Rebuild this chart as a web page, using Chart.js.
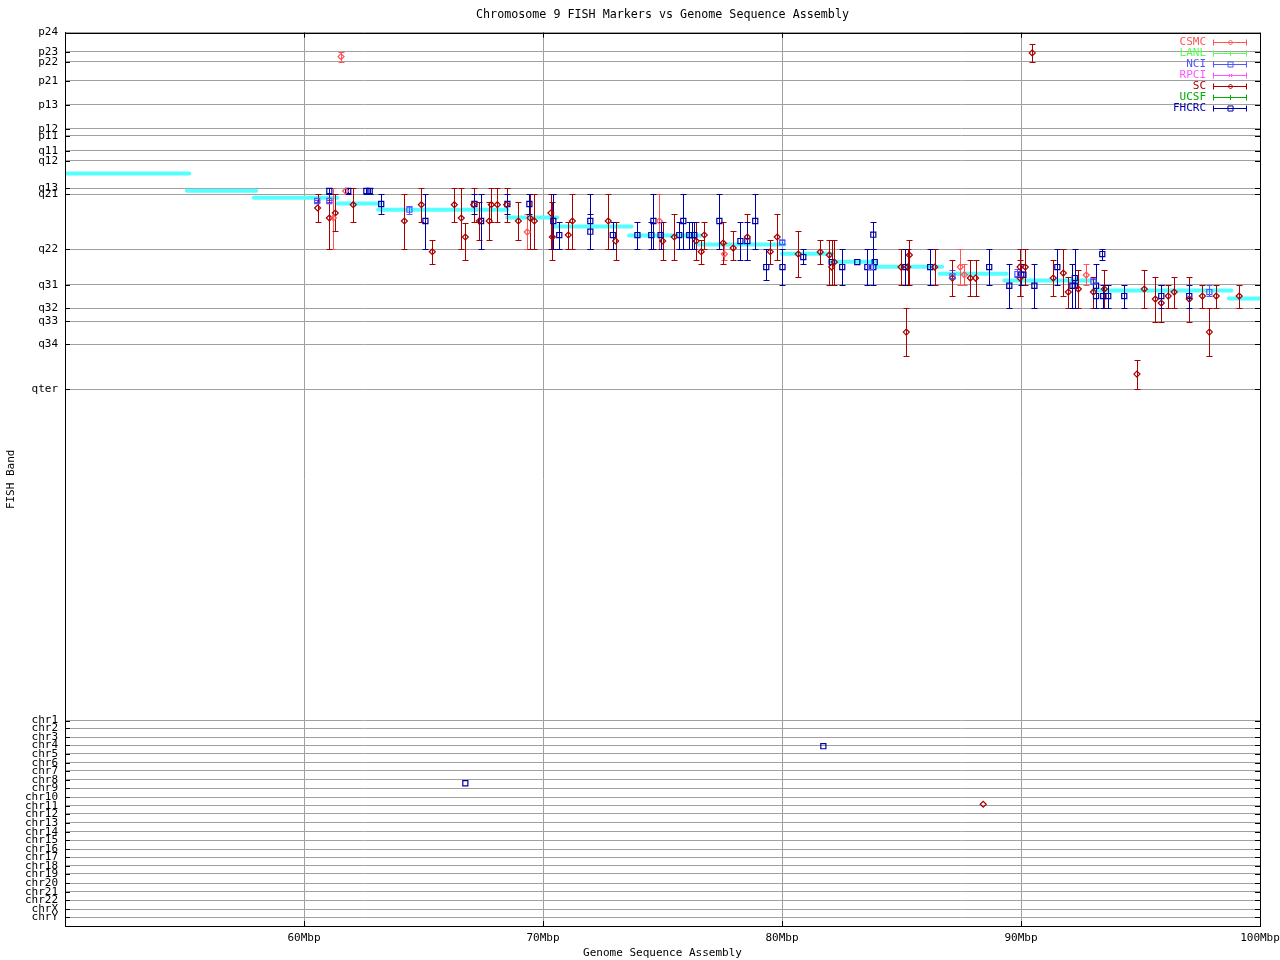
<!DOCTYPE html>
<html>
<head>
<meta charset="utf-8">
<title>Chromosome 9 FISH Markers vs Genome Sequence Assembly</title>
<script src="https://cdn.jsdelivr.net/npm/chart.js@4.4.1/dist/chart.umd.min.js"></script>
<style>
    html, body { margin: 0; padding: 0; background: #fff; }
    #wrap { width: 1280px; height: 960px; }
</style>
</head>
<body>
<div id="wrap"><canvas id="fish-chart" width="1280" height="960"></canvas></div>
<script>
// ---- axis data ----
const xTickValues = [60, 70, 80, 90, 100];

// band labels down the FISH axis and their position along it
const bandLabels = ['p24', 'p23', 'p22', 'p21', 'p13', 'p12', 'p11', 'q11', 'q12', 'q13', 'q21', 'q22',
    'q31', 'q32', 'q33', 'q34', 'qter',
    'chr1', 'chr2', 'chr3', 'chr4', 'chr5', 'chr6', 'chr7', 'chr8', 'chr9', 'chr10', 'chr11', 'chr12',
    'chr13', 'chr14', 'chr15', 'chr16', 'chr17', 'chr18', 'chr19', 'chr20', 'chr21', 'chr22', 'chrX', 'chrY'];
const bandPos = [0, 19.3, 29.3, 48.3, 72.3, 96.3, 103, 118.3, 128.3, 155.3, 161.3, 216.3,
    252, 275.3, 288.7, 311.3, 356.3,
    687.7, 695.3, 704.3, 712.3, 721, 730, 738, 747, 755.3, 764.3, 773, 781,
    790, 798.7, 807.3, 816.3, 824.3, 833, 841, 850.3, 859, 867.3, 876.3, 884.3];
const bandMax = 893;

// ---- sequence assembly contigs (Mbp start / end, band) ----
const contigStart = [50, 55.1, 57.9, 61.4, 63.1, 68.5, 70.5, 73.6, 76.5, 80.0, 82.0, 83.9, 86.6, 89.3, 93.0, 98.7];
const contigEnd   = [55.2, 58.0, 61.4, 63.2, 68.5, 70.6, 73.7, 76.6, 80.1, 82.1, 83.9, 86.7, 89.4, 93.0, 98.8, 100];
const contigBand  = [140.7, 158, 165, 170.7, 177, 184.7, 193.7, 202.7, 211.7, 221, 229, 234, 241, 247.7, 257.7, 265.7];

// ---- FISH markers: [Mbp, band, band low, band high] ----
const csmcMarkers = [
    [61.23, 185.3, 155.3, 216.3], [61.74, 158.3, 158.3, 158.3], [61.55, 24, 19.3, 29.3],
    [69.34, 199.3, 181.3, 216.3], [74.87, 188.3, 161.3, 216.3], [77.59, 221.3, 210.3, 227.3],
    [87.46, 234.3, 216.3, 252.3], [87.63, 242, 231.3, 252.3], [92.73, 242.3, 231.3, 252.7]
];
const lanlMarkers = [];
const nciMarkers = [
    [60.55, 168.3, 167, 169.7], [61.06, 168.3, 167, 169.7], [64.41, 177, 173.7, 181],
    [80.01, 209.7, 207.3, 211.7], [83.71, 234.3, 234.3, 234.3], [87.13, 243.7, 237.3, 245.3],
    [89.85, 241.3, 236.7, 244], [93.03, 248.7, 246.3, 251.3], [97.88, 259.3, 252.7, 263.3]
];
const rpciMarkers = [];
const scMarkers = [
    [60.57, 175.3, 161.3, 189.3], [61.06, 185.3, 161.3, 216.3], [61.31, 180.3, 161.3, 198.3],
    [62.06, 172, 155.3, 189.3], [64.2, 188.3, 161.3, 216.3], [64.91, 172, 155.3, 189.3],
    [65.37, 219, 207.3, 231.3], [66.29, 172, 155.3, 189.3], [66.58, 185.3, 155.3, 216.3],
    [66.75, 204.3, 190.3, 227.3], [67.1, 172, 155.3, 189.3], [67.34, 188.3, 169.3, 207.3],
    [67.75, 188.3, 169.3, 207.3], [67.84, 172, 155.3, 189.3], [68.09, 172, 155.3, 189.3],
    [68.48, 172, 155.3, 189.3], [68.97, 188.3, 169.3, 207.3], [69.46, 185.3, 161.3, 216.3],
    [69.64, 188.3, 161.3, 216.3], [70.33, 180.3, 161.3, 216.3], [70.39, 204.3, 169.3, 227.3],
    [71.06, 202.3, 189.3, 216.3], [71.23, 188.3, 161.3, 216.3], [72.73, 188.3, 161.3, 216.3],
    [73.04, 208.3, 189.3, 227.3], [75.01, 208.3, 189.3, 227.3], [75.49, 204.3, 181.3, 227.3],
    [76.41, 208.3, 189.3, 227.3], [76.62, 219, 207.3, 231.3], [76.75, 202.3, 189.3, 216.3],
    [77.54, 210.3, 189.3, 231.3], [77.96, 215.3, 198.3, 227.3], [78.55, 204.3, 181.3, 227.3],
    [79.51, 219, 207.3, 231.3], [79.8, 204.3, 181.3, 227.3], [80.68, 221.3, 198.3, 244.3],
    [81.6, 219.3, 207.3, 231.3], [81.98, 222.3, 207.3, 252.3], [82.08, 234.3, 207.3, 252.3],
    [82.19, 229.3, 207.3, 252.3], [84.98, 234.3, 216.3, 252.3], [85.2, 299.3, 275.3, 323],
    [85.26, 234.3, 216.3, 252.3], [85.33, 222.3, 207.3, 252.3], [86.39, 234.3, 216.3, 252.3],
    [87.13, 245.3, 227.3, 263], [87.88, 245.3, 227.3, 263], [88.1, 245.3, 227.3, 263],
    [89.96, 234.3, 216.3, 263.3], [89.96, 245.3, 227.3, 263.3], [90.18, 234.3, 216.3, 252.7],
    [91.35, 245.3, 227.3, 263.3], [91.77, 240.3, 216.3, 263.3], [91.98, 259.3, 244.3, 275.3],
    [92.4, 256.3, 237.3, 275.3], [93.03, 259.3, 244.3, 275.3], [93.49, 256.3, 237.3, 275.3],
    [94.85, 341.3, 327.3, 356.3], [95.16, 256.3, 237.3, 275.3], [95.62, 266.3, 244.3, 289.3],
    [95.87, 270.3, 252.7, 289.3], [96.16, 263.3, 252.7, 275.3], [96.41, 259.3, 244.3, 275.3],
    [97.04, 266.3, 244.3, 289.3], [97.59, 263.3, 252.7, 275.3], [97.88, 299.3, 275.3, 323.3],
    [98.17, 263.3, 252.7, 275.3], [99.13, 263.3, 252.7, 275.3], [90.47, 20.3, 11.3, 29.3],
    [88.42, 771.3, 771.3, 771.3]
];
const ucsfMarkers = [];
const fhcrcMarkers = [
    [61.06, 158.3, 155.3, 161.3], [61.85, 158.3, 155.3, 161.3], [62.61, 158.3, 155.3, 161.3],
    [62.75, 158.3, 155.3, 161.3], [63.23, 171.3, 161.3, 181], [65.08, 188.3, 161.3, 216.3],
    [67.13, 171.3, 161.3, 181], [67.41, 188.3, 161.3, 216.3], [68.51, 171.3, 161.3, 181],
    [69.43, 171.3, 161.3, 181], [70.43, 188.3, 161.3, 216.3], [70.68, 202.3, 189.3, 216.3],
    [71.98, 188.3, 161.3, 216.3], [71.98, 199, 181.3, 216.3], [72.92, 202.3, 189.3, 216.3],
    [73.95, 202.3, 189.3, 216.3], [74.53, 202.3, 189.3, 216.3], [74.62, 188.3, 161.3, 216.3],
    [74.92, 202.3, 189.3, 216.3], [75.7, 202.3, 189.3, 216.3], [75.87, 188.3, 161.3, 216.3],
    [76.12, 202.3, 189.3, 216.3], [76.23, 202.3, 189.3, 216.3], [76.33, 202.3, 189.3, 216.3],
    [77.38, 188.3, 161.3, 216.3], [78.26, 208.3, 189.3, 227.3], [78.55, 208.3, 189.3, 227.3],
    [78.88, 188.3, 161.3, 216.3], [79.34, 234.3, 216.3, 247], [80.02, 234.3, 216.3, 252.3],
    [80.89, 224.3, 216.3, 231.3], [82.08, 229.3, 229.3, 229.3], [82.52, 234.3, 216.3, 252.3],
    [83.15, 229.3, 229.3, 229.3], [83.57, 234.3, 216.3, 252.3], [83.82, 202, 189.3, 216.3],
    [83.82, 234.3, 216.3, 252.3], [83.88, 229.3, 229.3, 229.3], [85.16, 234.3, 216.3, 252.3],
    [86.2, 234.3, 216.3, 252.3], [88.67, 234.3, 216.3, 252.3], [89.51, 253, 231.3, 275.3],
    [90.01, 242, 231.3, 252.7], [90.1, 242, 242, 242], [90.56, 253, 231.3, 275.3],
    [91.52, 234.3, 216.3, 252.7], [92.15, 253, 231.3, 275.3], [92.25, 245.3, 216.3, 275.3],
    [92.25, 253, 253, 253], [93.14, 253, 231.3, 275.3], [93.14, 263.3, 263.3, 263.3],
    [93.4, 221.3, 216.3, 227.3], [93.44, 263.3, 252.7, 275.3], [93.65, 263.3, 252.7, 275.3],
    [94.32, 263.3, 252.7, 275.3], [95.87, 263.3, 252.7, 275.3], [97.04, 263.3, 252.7, 275.3],
    [66.75, 750.3, 750.3, 750.3], [81.73, 713.3, 713.3, 713.3]
];

const MONO = "'DejaVu Sans Mono', 'Liberation Mono', monospace";

// Series in legend order
const seriesList = [
    { name: 'CSMC',  color: '#ff5555', style: 'rectRot',  radius: 3,   rotation: 0,  points: csmcMarkers },
    { name: 'LANL',  color: '#55ff55', style: 'line',     radius: 3,   rotation: 90, points: lanlMarkers },
    { name: 'NCI',   color: '#5555ff', style: 'rect',     radius: 3.6, rotation: 0,  points: nciMarkers },
    { name: 'RPCI',  color: '#ff55ff', style: 'crossRot', radius: 3,   rotation: 0,  points: rpciMarkers },
    { name: 'SC',    color: '#aa0000', style: 'rectRot',  radius: 3,   rotation: 0,  points: scMarkers },
    { name: 'UCSF',  color: '#00aa00', style: 'line',     radius: 3,   rotation: 90, points: ucsfMarkers },
    { name: 'FHCRC', color: '#0000aa', style: 'rect',     radius: 3.6, rotation: 0,  points: fhcrcMarkers }
];

/**
 * Build the contig staircase as one line dataset with gaps
 */
function buildContigData() {
    const data = [];
    contigStart.forEach((start, i) => {
        data.push({ x: start, y: contigBand[i] });
        data.push({ x: contigEnd[i], y: contigBand[i] });
        data.push({ x: contigEnd[i], y: null });
    });
    return data;
}

/**
 * Build a scatter dataset for one FISH lab
 */
function markerDataset(s) {
    return {
        label: s.name,
        data: s.points.map(p => ({ x: p[0], y: p[1] })),
        borderColor: s.color,
        backgroundColor: 'rgba(0,0,0,0)',
        pointStyle: s.style,
        pointRadius: s.radius,
        pointHoverRadius: s.radius,
        pointRotation: s.rotation,
        pointBorderWidth: 1.2,
        order: 1
    };
}

/**
 * Draw one legend / marker glyph by hand
 */
function drawGlyph(ctx, style, x, y, r) {
    ctx.beginPath();
    if (style === 'rectRot') {
        ctx.moveTo(x, y - r); ctx.lineTo(x + r, y); ctx.lineTo(x, y + r); ctx.lineTo(x - r, y); ctx.closePath();
    } else if (style === 'rect') {
        const h = r / Math.SQRT2;
        ctx.rect(x - h, y - h, 2 * h, 2 * h);
    } else if (style === 'crossRot') {
        ctx.moveTo(x - r * 0.7, y - r * 0.7); ctx.lineTo(x + r * 0.7, y + r * 0.7);
        ctx.moveTo(x + r * 0.7, y - r * 0.7); ctx.lineTo(x - r * 0.7, y + r * 0.7);
    } else {
        ctx.moveTo(x, y - r); ctx.lineTo(x, y + r);
    }
    ctx.stroke();
}

// Error bars: drawn right after the contig staircase so markers sit on top
const errorBarPlugin = {
    id: 'errorBars',
    afterDatasetDraw(chart, args) {
        if (chart.data.datasets[args.index].id !== 'contigs') return;
        const { ctx, chartArea, scales } = chart;
        ctx.save();
        ctx.beginPath();
        ctx.rect(chartArea.left, chartArea.top, chartArea.right - chartArea.left, chartArea.bottom - chartArea.top);
        ctx.clip();
        ctx.lineWidth = 1;
        seriesList.forEach(s => {
            ctx.strokeStyle = s.color;
            s.points.forEach(p => {
                if (p[2] === p[3]) return;
                const x = Math.round(scales.x.getPixelForValue(p[0])) + 0.5;
                const y0 = Math.round(scales.y.getPixelForValue(p[2])) + 0.5;
                const y1 = Math.round(scales.y.getPixelForValue(p[3])) + 0.5;
                ctx.beginPath();
                ctx.moveTo(x, y0); ctx.lineTo(x, y1);
                ctx.moveTo(x - 3, y0); ctx.lineTo(x + 3, y0);
                ctx.moveTo(x - 3, y1); ctx.lineTo(x + 3, y1);
                ctx.stroke();
            });
        });
        ctx.restore();
    }
};

// Frame, inward tick marks and the legend box
const framePlugin = {
    id: 'frame',
    afterDraw(chart) {
        const { ctx, chartArea, scales } = chart;
        const { left, right, top, bottom } = chartArea;
        ctx.save();
        ctx.strokeStyle = '#000';
        ctx.lineWidth = 1;
        ctx.strokeRect(Math.round(left) + 0.5, Math.round(top) + 0.5, Math.round(right - left), Math.round(bottom - top));

        ctx.beginPath();
        scales.y.ticks.forEach(t => {
            const y = Math.round(scales.y.getPixelForValue(t.value)) + 0.5;
            ctx.moveTo(left, y); ctx.lineTo(left + 5, y);
            ctx.moveTo(right - 5, y); ctx.lineTo(right, y);
        });
        scales.x.ticks.forEach(t => {
            const x = Math.round(scales.x.getPixelForValue(t.value)) + 0.5;
            ctx.moveTo(x, top); ctx.lineTo(x, top + 5);
            ctx.moveTo(x, bottom - 5); ctx.lineTo(x, bottom);
        });
        ctx.stroke();

        // Legend
        ctx.font = '11px ' + MONO;
        ctx.textAlign = 'right';
        ctx.textBaseline = 'middle';
        seriesList.forEach((s, i) => {
            const y = Math.round(top + 9 + i * 11) + 0.5;
            const textX = right - 54;
            const x0 = right - 47;
            const x1 = right - 13;
            ctx.fillStyle = s.color;
            ctx.strokeStyle = s.color;
            ctx.fillText(s.name, textX, y);
            ctx.beginPath();
            ctx.moveTo(x0, y); ctx.lineTo(x1, y);
            ctx.moveTo(x0 + 0.5, y - 3); ctx.lineTo(x0 + 0.5, y + 3);
            ctx.moveTo(x1 - 0.5, y - 3); ctx.lineTo(x1 - 0.5, y + 3);
            ctx.stroke();
            drawGlyph(ctx, s.style, Math.round((x0 + x1) / 2) + 0.5, y, s.style === 'rect' ? 3.6 : 2.5);
        });
        ctx.restore();
    }
};

const whiteBackground = {
    id: 'whiteBackground',
    beforeDraw(chart) {
        const ctx = chart.ctx;
        ctx.save();
        ctx.fillStyle = '#fff';
        ctx.fillRect(0, 0, chart.width, chart.height);
        ctx.restore();
    }
};

document.addEventListener('DOMContentLoaded', function() {
    const ctx = document.getElementById('fish-chart');

    const datasets = seriesList.map(markerDataset);
    datasets.push({
        id: 'contigs',
        type: 'line',
        label: 'Assembly',
        data: buildContigData(),
        borderColor: '#55ffff',
        backgroundColor: '#55ffff',
        borderWidth: 4,
        borderCapStyle: 'round',
        pointRadius: 0,
        pointHoverRadius: 0,
        spanGaps: false,
        tension: 0,
        order: 2
    });

    new Chart(ctx, {
        type: 'scatter',
        data: { datasets: datasets },
        options: {
            responsive: false,
            animation: false,
            events: [],
            layout: { padding: { right: 20 } },
            plugins: {
                legend: { display: false },
                tooltip: { enabled: false },
                title: {
                    display: true,
                    fullSize: false,
                    text: 'Chromosome 9 FISH Markers vs Genome Sequence Assembly',
                    color: '#000',
                    font: { family: MONO, size: 11.7, weight: 'normal' },
                    padding: { top: 8, bottom: 10.6 }
                }
            },
            scales: {
                x: {
                    type: 'linear',
                    min: 50,
                    max: 100,
                    afterBuildTicks: scale => { scale.ticks = xTickValues.map(v => ({ value: v })); },
                    afterFit: scale => {
                        scale.height = 34;
                        scale.paddingLeft = 0;
                        scale.paddingRight = 0;
                    },
                    ticks: {
                        autoSkip: false,
                        maxRotation: 0,
                        padding: 6,
                        color: '#000',
                        font: { family: MONO, size: 11 },
                        callback: value => value + 'Mbp'
                    },
                    grid: { color: '#a0a0a0', drawTicks: false },
                    border: { color: '#000' },
                    title: {
                        display: true,
                        text: 'Genome Sequence Assembly',
                        color: '#000',
                        font: { family: MONO, size: 11 },
                        padding: { top: 0, bottom: 0 }
                    }
                },
                y: {
                    type: 'linear',
                    reverse: true,
                    min: 0,
                    max: bandMax,
                    afterBuildTicks: scale => { scale.ticks = bandPos.map(v => ({ value: v })); },
                    afterFit: scale => { scale.width = 65; },
                    ticks: {
                        autoSkip: false,
                        padding: 7,
                        color: '#000',
                        font: { family: MONO, size: 11 },
                        callback: value => bandLabels[bandPos.indexOf(value)]
                    },
                    grid: { color: '#a0a0a0', drawTicks: false },
                    border: { color: '#000' },
                    title: {
                        display: true,
                        text: 'FISH Band',
                        color: '#000',
                        font: { family: MONO, size: 11 },
                        padding: { top: 5, bottom: 0 }
                    }
                }
            }
        },
        plugins: [whiteBackground, errorBarPlugin, framePlugin]
    });
});
</script>
</body>
</html>
